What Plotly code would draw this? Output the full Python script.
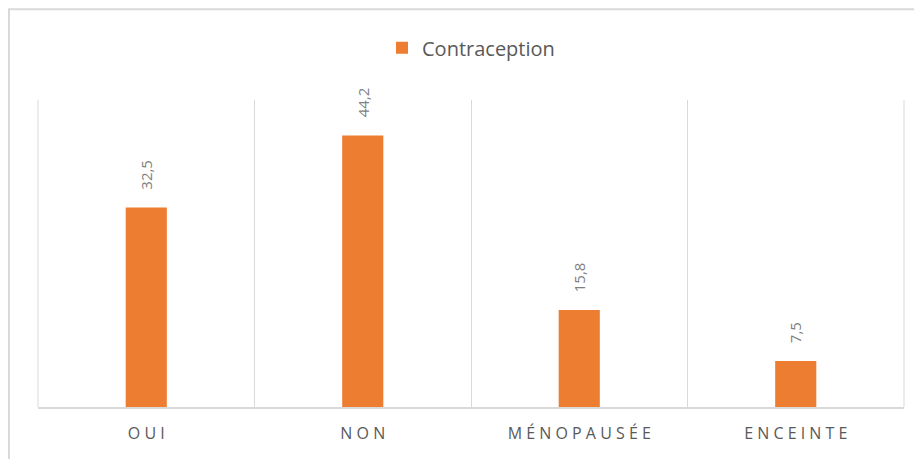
import plotly.graph_objects as go

# données
categories = ["O U I", "N O N", "M É N O P A U S É E", "E N C E I N T E"]
values = [32.5, 44.2, 15.8, 7.5]
series_name = "Contraception"

GREY_LINE = "#d9d9d9"
TEXT = "#595959"

fig = go.Figure(
    go.Bar(
        x=categories,
        y=values,
        name=series_name,
        marker=dict(color="#ED7D31", line=dict(width=0)),
        showlegend=True,
    )
)

# étiquettes de données verticales, un peu au-dessus des barres
for cat, val in zip(categories, values):
    fig.add_annotation(
        x=cat,
        y=val,
        text=f"{val:.1f}".replace(".", ","),
        textangle=-90,
        showarrow=False,
        xanchor="center",
        yanchor="bottom",
        yshift=16,
        font=dict(family="Open Sans", size=15, color="#7f7f7f"),
    )

# la page a 8 px de marge : on décale tout de 8 px
fig.update_layout(
    width=922,
    height=459,
    margin=dict(l=30, r=26, t=92, b=60),
    paper_bgcolor="white",
    plot_bgcolor="white",
    bargap=0.81,
    showlegend=True,
    legend=dict(
        orientation="h",
        x=0.5,
        xanchor="center",
        y=1.17,
        yanchor="middle",
        font=dict(family="Open Sans", size=20, color=TEXT),
        itemwidth=30,
    ),
    xaxis=dict(
        type="category",
        tickson="boundaries",
        showgrid=True,
        gridcolor=GREY_LINE,
        gridwidth=1,
        showline=True,
        linecolor=GREY_LINE,
        linewidth=1.5,
        ticks="",
        ticklabelstandoff=11,
        tickfont=dict(family="Open Sans", size=16, color=TEXT),
    ),
    yaxis=dict(
        range=[0, 50],
        showgrid=False,
        zeroline=False,
        showticklabels=False,
        ticks="",
    ),
    shapes=[
        # cadre du graphique (haut et gauche visibles)
        dict(
            type="rect", xref="paper", yref="paper",
            x0=-0.0335, x1=1.2, y0=-0.5, y1=1.296,
            line=dict(color=GREY_LINE, width=2),
            fillcolor="rgba(0,0,0,0)", layer="below",
        ),
        # bords gauche et droit de la zone de tracé
        dict(
            type="line", xref="paper", yref="paper",
            x0=0, x1=0, y0=0, y1=1,
            line=dict(color=GREY_LINE, width=1), layer="below",
        ),
        dict(
            type="line", xref="paper", yref="paper",
            x0=1, x1=1, y0=0, y1=1,
            line=dict(color=GREY_LINE, width=1), layer="below",
        ),
    ],
)

fig.write_html("out.html")
